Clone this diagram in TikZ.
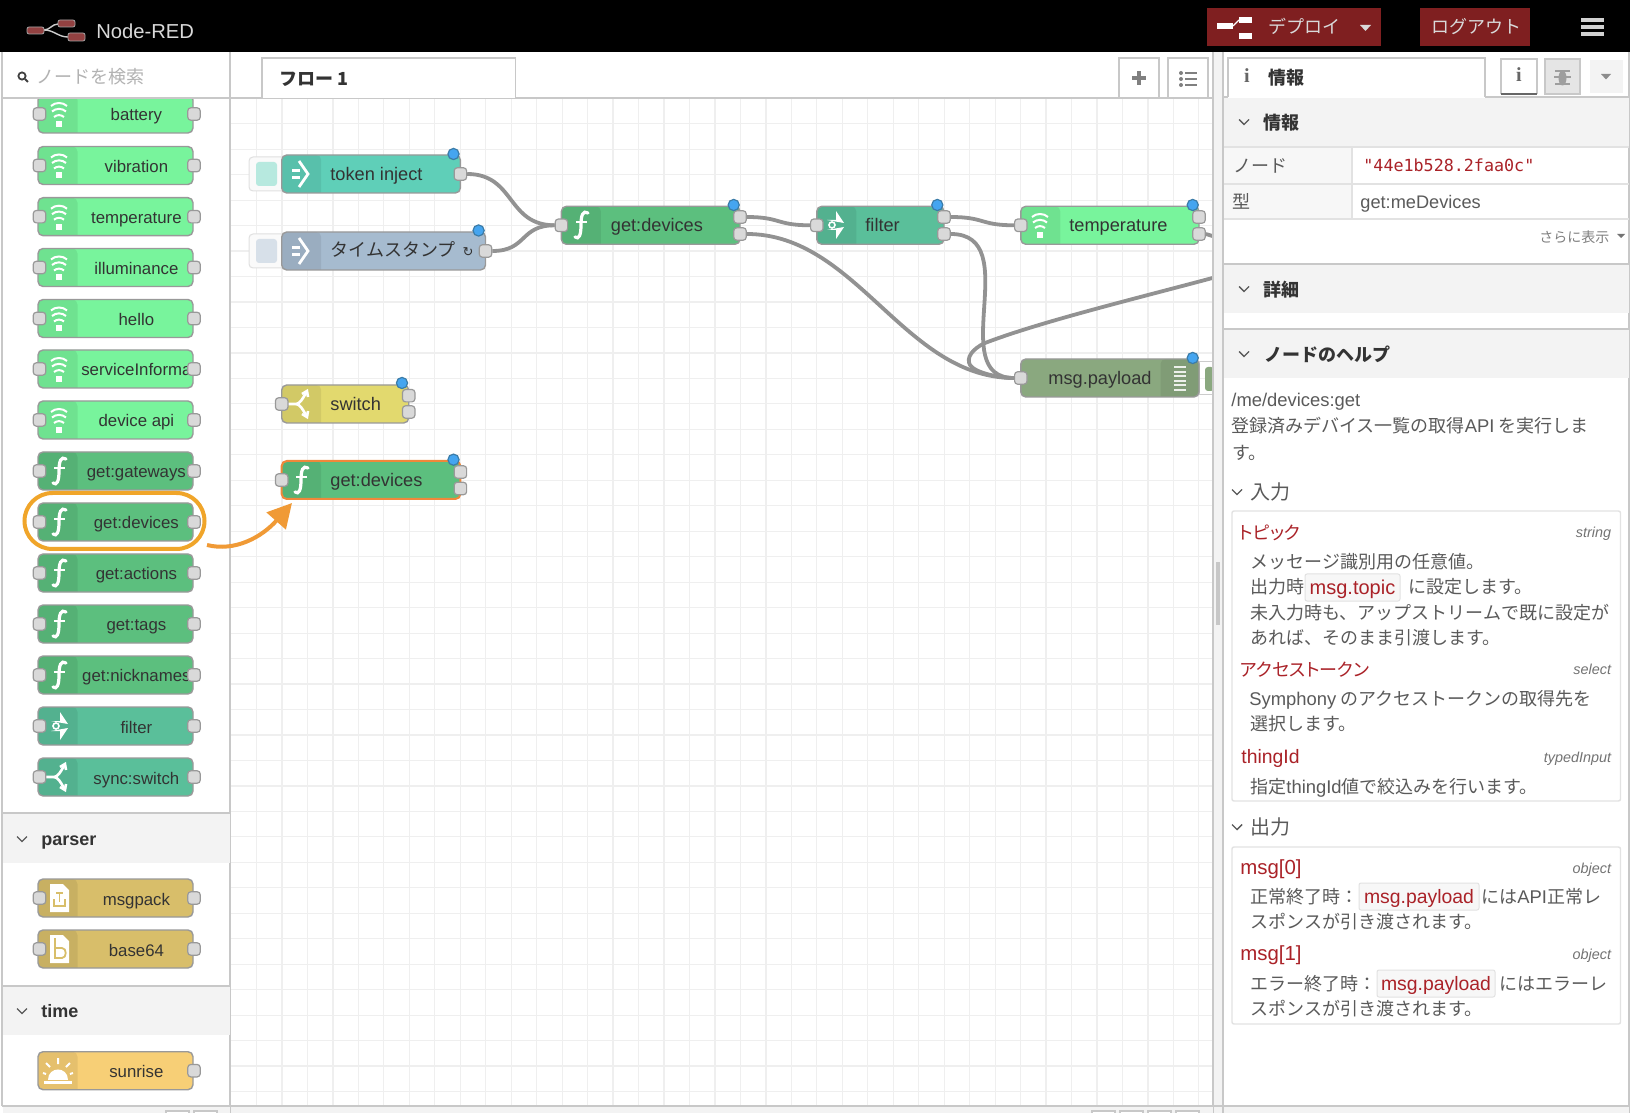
\documentclass[tikz,border=0pt]{standalone}
\usepackage{fontspec}
\usetikzlibrary{arrows.meta}
\setmainfont{Liberation Sans}
\newfontfamily\cjk{Noto Sans CJK JP}
\newfontfamily\cjkhead[RawFeature=+palt]{Noto Sans CJK JP}
\newfontfamily\monofnt{DejaVu Sans Mono}
\newfontfamily\seriffnt{Liberation Serif}
\newfontfamily\symfnt{DejaVu Sans}
\newcommand{\fsz}[1]{\fontsize{#1}{#1}\selectfont}

\definecolor{wifigreen}{HTML}{78F49C}
\definecolor{funcgreen}{HTML}{5CBF7E}
\definecolor{filtergreen}{HTML}{5ABF9A}
\definecolor{injectteal}{HTML}{5FCFB8}
\definecolor{stampblue}{HTML}{A6BBCF}
\definecolor{switchyellow}{HTML}{E2D96E}
\definecolor{parsergold}{HTML}{D8BE6A}
\definecolor{sunorange}{HTML}{F7CF76}
\definecolor{debugolive}{HTML}{8AA87F}
\definecolor{deployred}{HTML}{7F1F20}
\definecolor{panelline}{HTML}{C8C8C8}
\definecolor{softline}{HTML}{E2E2E2}
\definecolor{secbg}{HTML}{F3F3F3}
\definecolor{gridgray}{HTML}{EFEFEF}
\definecolor{wiregray}{HTML}{929292}
\definecolor{helpred}{HTML}{AA2228}
\definecolor{textdark}{HTML}{333333}
\definecolor{textgray}{HTML}{5A5A5A}
\definecolor{ringorange}{HTML}{F0A52A}
\definecolor{arroworange}{HTML}{F09A36}
\definecolor{selorange}{HTML}{F0883A}
\definecolor{dotblue}{HTML}{45A5F0}
\definecolor{dotedge}{HTML}{3B7CA8}

\tikzset{
  nodebody/.style={draw=black!40, line width=.7pt, rounded corners=2.5pt, inner sep=0pt, minimum height=19pt},
  port/.style={draw=black!40, fill=black!15, line width=.6pt, rounded corners=1.5pt, inner sep=0pt, minimum size=6.2pt},
  bluedot/.style={circle, draw=dotedge, fill=dotblue, line width=.6pt, inner sep=0pt, minimum size=5.6pt},
  wire/.style={draw=wiregray, line width=1.9pt},
  lbl/.style={anchor=west, inner sep=0pt, text height=7pt, text depth=2pt, text=textdark, yshift=-1pt},
  nodelbl/.style={lbl, font=\fsz{9.1}},
  pallbl/.style={lbl, anchor=center, font=\fsz{8.4}},
  jp/.style={lbl, font=\fsz{9}\cjk, yshift=-.75pt},
  jpbold/.style={jp, font=\fsz{9}\cjk\bfseries},
  helptxt/.style={jp, text=textgray},
  helphead/.style={lbl, text=helpred, font=\fsz{9.7}},
  jphead/.style={jp, text=helpred, font=\fsz{9}\cjkhead},
  typelbl/.style={lbl, anchor=east, font=\fsz{7.2}\itshape, text=black!55},
  codebox/.style={draw=softline, fill=black!3, rounded corners=1pt, inner sep=0pt, minimum height=13.5pt, text=helpred, font=\fsz{9.7}, text height=9pt, text depth=2pt, line width=.5pt},
  whiteicon/.style={white, line width=1pt},
  panelrule/.style={draw=panelline, line width=.8pt},
  softrule/.style={draw=softline, line width=.7pt},
  bar/.style={draw=panelline, line width=.7pt},
}

% body of a node: name, left, right, centre y, colour, extra options
\newcommand{\flowbox}[6][]{%
  \pgfmathsetmacro\boxcx{(#3+#4)/2}%
  \pgfmathsetmacro\boxw{(#4-#3)*0.5}%
  \node[nodebody, fill=#6, minimum width=\boxw pt, #1,
    path picture={\fill[black,opacity=.07] (path picture bounding box.north west) rectangle +(39.5,45);}]
    (#2) at (\boxcx,#5) {};
}
\newcommand{\chev}[2]{\draw[black!65, line width=.7pt] (#1-5,#2-2.5) -- (#1,#2+2.5) -- (#1+5,#2-2.5);}

% icons
\newcommand{\wifiicon}[2]{\begin{scope}[shift={(#1,#2)}]
  \draw[whiteicon] (-8,-8) .. controls (-4,-12) and (4,-12) .. (8,-8);
  \draw[whiteicon] (-7,-2.5) .. controls (-3,-6) and (3,-6) .. (7,-2.5);
  \draw[whiteicon] (-5,3) .. controls (-2,.5) and (2,.5) .. (5,3);
  \fill[white] (-3.3,7) rectangle (3.3,13);
\end{scope}}
\newcommand{\functicon}[2]{\begin{scope}[shift={(#1,#2)}]
  \draw[white, line width=1.6pt, line cap=round] (-6,12) .. controls (-2,15) and (0,10) .. (0,0) .. controls (0,-10) and (2,-15) .. (7,-12);
  \draw[white, line width=1.3pt] (-5,-3) -- (6,-3);
\end{scope}}
\newcommand{\filtericon}[2]{\begin{scope}[shift={(#1,#2)}]
  \fill[white] (1,-14) -- (9,-2) -- (-8,-5) -- (1,-5) -- cycle;
  \fill[white] (1,14) -- (9,2) -- (-8,5) -- (1,5) -- cycle;
  \draw[white, line width=.8pt] (-3,0) circle (3);
\end{scope}}
\newcommand{\switchicon}[2]{\begin{scope}[shift={(#1,#2)}]
  \draw[whiteicon, line width=1.3pt] (-13,0) -- (-5,0) .. controls (-1,0) and (2,-6) .. (5,-11);
  \draw[whiteicon, line width=1.3pt] (-5,0) .. controls (-1,0) and (2,6) .. (5,11);
  \draw[whiteicon, line width=1.3pt] (1,-10) -- (6,-13) -- (7,-7);
  \draw[whiteicon, line width=1.3pt] (1,10) -- (6,13) -- (7,7);
\end{scope}}
\newcommand{\injecticon}[2]{\begin{scope}[shift={(#1,#2)}]
  \fill[white] (-8,-5) rectangle (0,-2);
  \fill[white] (-8,2) rectangle (0,5);
  \draw[white, line width=1.4pt] (-1,-13) -- (8,0) -- (-1,13);
\end{scope}}
\newcommand{\packicon}[2]{\begin{scope}[shift={(#1,#2)}]
  \fill[white] (-9,-14) -- (4,-14) -- (10,-8) -- (10,14) -- (-9,14) -- cycle;
  \draw[parsergold, line width=.7pt] (-5,1) -- (-5,8) -- (6,8) -- (6,1);
  \draw[parsergold, line width=.7pt] (.5,-5) -- (.5,4) (-3,-5) -- (4,-5);
\end{scope}}
\newcommand{\bsixicon}[2]{\begin{scope}[shift={(#1,#2)}]
  \fill[white] (-9,-14) -- (4,-14) -- (10,-8) -- (10,14) -- (-9,14) -- cycle;
  \draw[parsergold, line width=.9pt] (-4,-11) -- (-4,9) -- (3,9) .. controls (8,9) and (8,-1) .. (3,-1) -- (-4,-1);
\end{scope}}
\newcommand{\sunicon}[2]{\begin{scope}[shift={(#1,#2)}]
  \fill[white] (-14,10) rectangle (14,13);
  \fill[white] (-10,9) .. controls (-10,-5) and (10,-5) .. (10,9) -- cycle;
  \draw[whiteicon] (0,-13) -- (0,-7) (-12,-8) -- (-8,-4) (12,-8) -- (8,-4) (-15,2) -- (-12,3) (15,2) -- (12,3);
\end{scope}}

\begin{document}
\begin{tikzpicture}[x=0.5pt,y=-0.5pt]
\useasboundingbox (0,0) rectangle (1630,1118);
\fill[white] (0,0) rectangle (1630,1118);

% header
\fill[black] (0,0) rectangle (1630,52);
\draw[black!20, line width=.7pt] (44,30) .. controls (50,30) and (52,24) .. (58,24);
\draw[black!20, line width=.7pt] (44,30) .. controls (54,30) and (58,37) .. (68,37);
\foreach \a/\b/\c/\d in {27/27/44/34,58/20/75/27,68/33/85/41}
  \draw[fill=deployred!85, draw=black!35, line width=.4pt, rounded corners=1pt] (\a,\b) rectangle (\c,\d);
\node[lbl, text=black!15, font=\fsz{10.1}] (logoText) at (96,32) {Node-RED};
\fill[deployred] (1207,8) rectangle (1381,46);
\fill[white] (1217,23) rectangle (1233,29);
\fill[white] (1239,17) rectangle (1252,23);
\fill[white] (1239,33) rectangle (1252,39);
\draw[white, line width=.6pt] (1233,26) -- (1239,20);
\node[jp, text=black!15] (deployText) at (1268,25) {デプロイ};
\fill[black!15] (1360,25) -- (1371,25) -- (1365.5,31) -- cycle;
\fill[deployred] (1420,8) rectangle (1530,46);
\node[jp, text=black!15] (logoutText) at (1431,25) {ログアウト};
\foreach \b in {18,25,32}
  \fill[black!18] (1581,\b) rectangle (1604,\b+4);

% workspace grid
\foreach \k in {0,...,37}
  \draw[gridgray, line width=.6pt] ({256.5+\k*25.47},98) -- ({256.5+\k*25.47},1106);
\foreach \k in {0,...,38}
  \draw[gridgray, line width=.6pt] (231,{123.7+\k*25.47}) -- (1212,{123.7+\k*25.47});

% palette nodes
\foreach \i/\name/\yy/\col/\ic in {
  1/battery/114/wifigreen/wifi,2/vibration/165.5/wifigreen/wifi,3/temperature/216.7/wifigreen/wifi,
  4/illuminance/267.5/wifigreen/wifi,5/hello/318.5/wifigreen/wifi,6/serviceInforma/369/wifigreen/wifi,
  7/device api/420/wifigreen/wifi,8/get:gateways/471/funcgreen/funct,9/get:devices/522/funcgreen/funct,
  10/get:actions/573/funcgreen/funct,11/get:tags/624/funcgreen/funct,12/get:nicknames/675/funcgreen/funct,
  13/filter/726/filtergreen/filter,14/sync:switch/777/filtergreen/switch,
  15/msgpack/898/parsergold/pack,16/base64/949/parsergold/bsix}
{
  \flowbox{pal\i}{38}{193}{\yy}{\col}
  \csname\ic icon\endcsname{59}{\yy}
  \node[pallbl] (pal\i-lbl) at (136.4,\yy) {\name};
  \node[port] (pal\i-in) at (39.5,\yy) {};
  \node[port] (pal\i-out) at (194,\yy) {};
}
\flowbox{pal17}{38}{193}{1070.7}{sunorange}
\sunicon{58}{1071}
\node[pallbl] (pal17-lbl) at (136.4,1070.7) {sunrise};
\node[port] (pal17-out) at (194,1070.7) {};

% palette frame and sections
\fill[white] (2,52) rectangle (230,98);
\draw[panelrule] (2,52) -- (2,1106);
\draw[panelrule] (2,98) -- (230,98);
\draw[panelrule] (230,52) -- (230,1113);
\draw[black!75, line width=.9pt] (22,76) circle (3.6);
\draw[black!75, line width=1pt] (25,79) -- (28,82);
\node[jp, text=black!30] (searchText) at (36,75) {ノードを検索};
\fill[secbg] (3,813) rectangle (229.5,863);
\draw[panelrule] (3,813) -- (229.5,813);
\chev{22}{839}
\node[lbl, font=\fsz{9}\bfseries] (parserText) at (41,838) {parser};
\fill[secbg] (3,986) rectangle (229.5,1035);
\draw[panelrule] (3,986) -- (229.5,986);
\chev{22}{1011}
\node[lbl, font=\fsz{9}\bfseries] (timeText) at (41,1010) {time};

% tab bar
\draw[panelrule] (230,98) -- (1213,98);
\fill[white] (262,58) rectangle (515.5,98.5);
\draw[bar] (262,98) -- (262,58) -- (515.5,58) -- (515.5,98);
\node[jpbold] (tabText) at (279,77) {フロー 1};
\fill[white] (1119,58) rectangle (1159,97);
\draw[bar] (1119,97) -- (1119,58) -- (1159,58) -- (1159,97);
\fill[white] (1168,58) rectangle (1208,97);
\draw[bar] (1168,97) -- (1168,58) -- (1208,58) -- (1208,97);
\draw[black!50, line width=2pt] (1132,78.5) -- (1146,78.5) (1139,71.5) -- (1139,85.5);
\foreach \b in {73,79,85} {
  \fill[black!50] (1181,\b) circle (2);
  \draw[black!50, line width=1pt] (1185,\b) -- (1197,\b);
}

% inject buttons
\foreach \yy/\col in {174/injectteal,251/stampblue} {
  \draw[fill=black!2, draw=black!12, rounded corners=2pt, line width=.5pt] (249,\yy-17) rectangle (285,\yy+17);
  \fill[\col!45!white, rounded corners=1.5pt] (256,\yy-12) rectangle (277,\yy+12);
}
\draw[draw=black!20, line width=.5pt] (1199,362) rectangle (1213,395);
\fill[debugolive, rounded corners=1.5pt] (1205,367) rectangle (1214,391);

% flow
\flowbox{tokenInject}{281.7}{460.4}{174}{injectteal}
\flowbox{stampInject}{281.7}{485.5}{251}{stampblue}
\flowbox{switchNode}{281.7}{408.7}{404}{switchyellow}
\flowbox[draw=selorange, line width=1pt]{selDevices}{281.7}{460.4}{480}{funcgreen}
\flowbox{devicesNode}{561.4}{740}{225.3}{funcgreen}
\flowbox{filterNode}{816.8}{944}{225.3}{filtergreen}
\flowbox{tempNode}{1020.8}{1199}{225.3}{wifigreen}
\node[nodebody, fill=debugolive, minimum width=89.1pt,
  path picture={\fill[black,opacity=.07] (path picture bounding box.north east) rectangle +(-38.5,45);}]
  (payloadNode) at (1109.9,378) {};
\injecticon{300}{174}
\injecticon{300}{251}
\switchicon{301}{404}
\functicon{301}{480}
\functicon{581}{225}
\filtericon{835}{225}
\wifiicon{1040}{225}
\foreach \b in {367,371.6,376.2,380.8,385.4,390}
  \draw[white, opacity=.85, line width=1pt] (1174,\b) -- (1186,\b);
\node[nodelbl] (tokenLbl) at (330,174) {token inject};
\node[nodelbl, font=\fsz{9}\cjk] (stampLbl) at (330,250) {タイムスタンプ\hspace{3.5pt}{\symfnt\fsz{6.5}↻}};
\node[nodelbl] (switchLbl) at (330,404) {switch};
\node[nodelbl] (selLbl) at (330,480) {get:devices};
\node[nodelbl] (devicesLbl) at (610.5,224.5) {get:devices};
\node[nodelbl] (filterLbl) at (865,224.5) {filter};
\node[nodelbl] (tempLbl) at (1069,224.5) {temperature};
\node[nodelbl] (payloadLbl) at (1048,378) {msg.payload};

% ports
\foreach \nm/\px/\py in {tiOut/460.4/174,tsOut/485.5/251,swIn/281.7/404,swOutA/408.7/395.7,swOutB/408.7/412,
  selIn/281.7/480,selOutA/460.4/472,selOutB/460.4/488.5,gdIn/561.4/225.3,gdOutA/740/217,gdOutB/740/234,
  flIn/816.8/225.3,flOutA/944/217,flOutB/944/234,tmIn/1020.8/225.3,tmOutA/1199/217,tmOutB/1199/234,mpIn/1020.8/378}
  \node[port] (\nm) at (\px,\py) {};
\foreach \nm/\px/\py in {tiDot/453.5/154,tsDot/478.6/230.5,swDot/402/383,selDot/453.5/459.7,gdDot/733.7/205,
  flDot/937.3/205,tmDot/1192.7/205,mpDot/1192.7/358}
  \node[bluedot] (\nm) at (\px,\py) {};

% wires
\coordinate (wireOut) at (1212.5,236);
\coordinate (wireBack) at (1212.5,278);
\draw[wire] (tiOut.east) .. controls +(48,0) and +(-48,0) .. (gdIn.west);
\draw[wire] (tsOut.east) .. controls +(35,0) and +(-35,0) .. (gdIn.west);
\draw[wire] (gdOutA.east) .. controls +(34,0) and +(-34,0) .. (flIn.west);
\draw[wire] (gdOutB.east) .. controls +(110,0) and +(-110,0) .. (mpIn.west);
\draw[wire] (flOutA.east) .. controls +(34,0) and +(-34,0) .. (tmIn.west);
\draw[wire] (flOutB.east) .. controls +(75,0) and +(-70,0) .. (mpIn.west);
\draw[wire] (tmOutB.east) -- (wireOut);
\draw[wire] (wireBack) .. controls (1130,300) and (1040,322) .. (985,343) .. controls (972,349) and (966,358) .. (970,365) .. controls (975,373) and (1000,378) .. (mpIn.west);

% gutter between workspace and sidebar
\fill[secbg] (1213,52) rectangle (1223,1113);
\draw[panelrule] (1213,52) -- (1213,1113);
\draw[panelrule] (1223,52) -- (1223,1113);
\fill[black!22] (1216,562) rectangle (1220,625);

% sidebar tabs
\draw[panelrule] (1223,97) -- (1629,97);
\draw[panelrule] (1629,52) -- (1629,1113);
\fill[white] (1228,58) rectangle (1485,98);
\draw[bar] (1228,97) -- (1228,58) -- (1485,58) -- (1485,97);
\node[lbl, anchor=center, font=\fsz{10}\seriffnt\bfseries, text=black!60] (infoGlyph) at (1247,76) {i};
\node[jpbold] (infoTab) at (1268,76) {情報};
\draw[bar] (1501,94) -- (1501,59) -- (1537,59) -- (1537,94);
\draw[black!60, line width=1pt] (1501,94) -- (1537,94);
\node[lbl, anchor=center, font=\fsz{10}\seriffnt\bfseries, text=black!60] (infoBtn) at (1519,75) {i};
\draw[fill=black!10, draw=panelline, line width=.7pt] (1545,59) rectangle (1580,94);
\fill[black!38] (1562.5,78) ellipse (4 and 7.5);
\draw[black!38, line width=.6pt] (1555,71) -- (1570,71) (1554,77) -- (1571,77) (1555,84) -- (1570,84);
\fill[secbg] (1589.5,60) rectangle (1623,93);
\fill[black!45] (1601,74) -- (1611,74) -- (1606,79.5) -- cycle;

% sidebar sections
\fill[secbg] (1224,98) rectangle (1628.5,147);
\chev{1244}{122}
\node[jpbold] (infoHead) at (1263,121) {情報};
\fill[black!3] (1224,147) rectangle (1352,219);
\draw[softrule] (1224,147) -- (1628.5,147);
\draw[softrule] (1224,184) -- (1628.5,184);
\draw[softrule] (1224,219) -- (1628.5,219);
\draw[softrule] (1352,147) -- (1352,219);
\node[jp, text=textgray] (rowNode) at (1233,164) {ノード};
\node[jp, text=textgray] (rowType) at (1232,200) {型};
\node[lbl, text=helpred, font=\fsz{8.35}\monofnt] (rowId) at (1363,165) {"44e1b528.2faa0c"};
\node[lbl, text=textgray, font=\fsz{9.1}] (rowMeta) at (1360,202) {get:meDevices};
\node[jp, text=black!50, font=\fsz{7}\cjk] (moreText) at (1539,234.5) {さらに表示};
\fill[black!55] (1617,234) -- (1625,234) -- (1621,238) -- cycle;
\fill[secbg] (1224,264) rectangle (1628.5,313);
\draw[panelrule] (1224,264) -- (1628.5,264);
\chev{1244}{289}
\node[jpbold] (detailHead) at (1263,288) {詳細};
\fill[secbg] (1224,329) rectangle (1628.5,378);
\draw[panelrule] (1224,329) -- (1628.5,329);
\chev{1244}{354}
\node[jpbold] (helpHead) at (1264,353) {ノードのヘルプ};

% help text
\node[lbl, text=textgray, font=\fsz{9.2}] (helpPath) at (1231,400) {/me/devices:get};
\node[helptxt] (helpA) at (1231,424) {登録済みデバイス一覧の取得{\rmfamily\fsz{9.2}API} を実行しま};
\node[helptxt] (helpB) at (1232,451) {す。};
\chev{1237}{492}
\node[helptxt, font=\fsz{10}\cjk] (inHead) at (1250,491) {入力};
\draw[softrule, rounded corners=1pt] (1232,511) rectangle (1620.5,801);
\node[jphead] (topicHead) at (1239,531) {トピック};
\node[typelbl] (topicType) at (1611.5,531) {string};
\node[helptxt] (topicA) at (1250,560) {メッセージ識別用の任意値。};
\node[helptxt] (topicB) at (1250,585) {出力時};
\node[codebox, minimum width=47.5pt, font=\fsz{10}] (topicCode) at (1352.5,587.5) {msg.topic};
\node[helptxt] (topicC) at (1408,585) {に設定します。};
\node[helptxt] (topicD) at (1250,611) {未入力時も、アップストリームで既に設定が};
\node[helptxt] (topicE) at (1250,636) {あれば、そのまま引渡します。};
\node[jphead] (tokenHead) at (1240,668) {アクセストークン};
\node[typelbl] (tokenType) at (1611.5,668) {select};
\node[helptxt] (tokenA) at (1249,697) {{\rmfamily\fsz{9.2}Symphony} のアクセストークンの取得先を};
\node[helptxt] (tokenB) at (1250,722) {選択します。};
\node[helphead] (thingHead) at (1241,756) {thingId};
\node[typelbl] (thingType) at (1611.5,755) {typedInput};
\node[helptxt] (thingA) at (1250,785) {指定{\rmfamily\fsz{9.2}thingId}値で絞込みを行います。};
\chev{1237}{827}
\node[helptxt, font=\fsz{10}\cjk] (outHead) at (1250,826) {出力};
\draw[softrule, rounded corners=1pt] (1232,847) rectangle (1620.5,1024);
\node[helphead, font=\fsz{10.2}] (msgZero) at (1240,867) {msg[0]};
\node[typelbl] (zeroType) at (1611.5,866) {object};
\node[helptxt] (zeroA) at (1250,895) {正常終了時：};
\node[codebox, minimum width=60pt] (zeroCode) at (1419,896.5) {msg.payload};
\node[helptxt] (zeroB) at (1481,895) {には{\rmfamily\fsz{9.2}API}正常レ};
\node[helptxt] (zeroC) at (1250,920) {スポンスが引き渡されます。};
\node[helphead, font=\fsz{10.2}] (msgOne) at (1240,953) {msg[1]};
\node[typelbl] (oneType) at (1611.5,952) {object};
\node[helptxt] (oneA) at (1250,982) {エラー終了時：};
\node[codebox, minimum width=59pt] (oneCode) at (1436,983.5) {msg.payload};
\node[helptxt] (oneB) at (1499,982) {にはエラーレ};
\node[helptxt] (oneC) at (1250,1007) {スポンスが引き渡されます。};

% bottom bars
\fill[secbg] (3,1106) rectangle (229.5,1113);
\fill[secbg] (231,1106) rectangle (1212.5,1113);
\fill[secbg] (1224,1106) rectangle (1628.5,1113);
\draw[panelrule] (2,1106) -- (1629,1106);
\foreach \a in {166,194,1092,1120,1148,1176}
  \draw[bar, fill=white] (\a,1113) -- (\a,1111) -- (\a+23,1111) -- (\a+23,1113);
\fill[white] (0,1113) rectangle (1630,1118);

% orange highlight and arrow
\node[draw=ringorange, line width=2pt, rounded corners=14pt, inner sep=0pt, minimum width=90pt, minimum height=28pt] (dragRing) at (114.5,521) {};
\coordinate (arrowStart) at (207,545);
\coordinate (arrowEnd) at (292,503);
\draw[arroworange, line width=2pt, -{Triangle[length=12pt,width=12.5pt]}] (arrowStart) .. controls (235,552) and (262,537) .. (arrowEnd);

\end{tikzpicture}
\end{document}
